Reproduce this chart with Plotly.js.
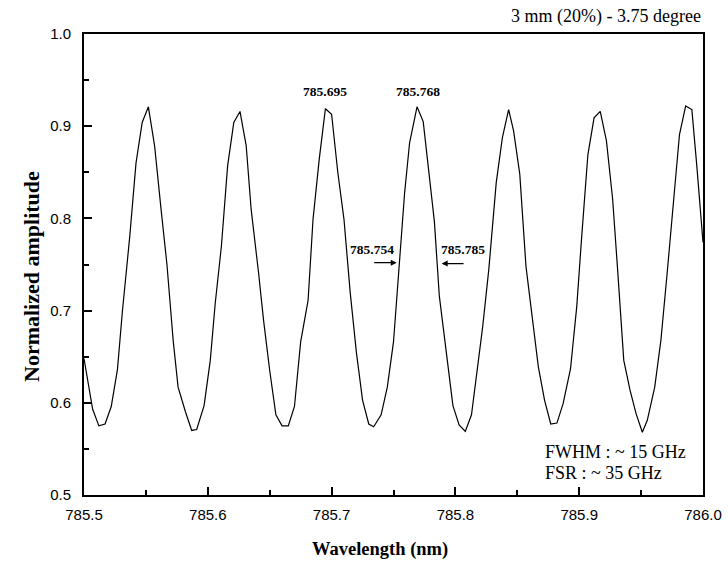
<!DOCTYPE html>
<html>
<head>
<meta charset="utf-8">
<script src="https://cdn.plot.ly/plotly-3.0.1.min.js"></script>
<style>
html,body{margin:0;padding:0;background:#fff;}
#chart{width:728px;height:565px;}
</style>
</head>
<body>
<div id="chart"></div>
<script>
// Wavelength (nm) samples
const wavelength = [
  785.500, 785.507, 785.512, 785.517, 785.522, 785.527, 785.531, 785.537, 785.542, 785.547,
  785.552, 785.557, 785.562, 785.567, 785.572, 785.576, 785.582, 785.587, 785.591, 785.597,
  785.602, 785.606, 785.611, 785.616, 785.621, 785.626, 785.631, 785.635, 785.641, 785.645,
  785.650, 785.655, 785.660, 785.665, 785.670, 785.675, 785.681, 785.685, 785.690, 785.695,
  785.700, 785.705, 785.710, 785.715, 785.720, 785.725, 785.730, 785.734, 785.740, 785.745,
  785.750, 785.755, 785.759, 785.763, 785.769, 785.774, 785.779, 785.783, 785.787, 785.793,
  785.798, 785.803, 785.808, 785.813, 785.817, 785.822, 785.827, 785.833, 785.838, 785.843,
  785.847, 785.852, 785.857, 785.862, 785.867, 785.872, 785.877, 785.882, 785.887, 785.893,
  785.898, 785.902, 785.907, 785.912, 785.917, 785.922, 785.927, 785.931, 785.936, 785.941,
  785.946, 785.951, 785.955, 785.961, 785.966, 785.971, 785.976, 785.981, 785.986, 785.991,
  785.995, 786.000
];
// Normalized amplitude
const amplitude = [
  0.648, 0.593, 0.575, 0.577, 0.596, 0.636, 0.699, 0.781, 0.860, 0.904,
  0.921, 0.879, 0.813, 0.750, 0.668, 0.617, 0.590, 0.570, 0.571, 0.597,
  0.646, 0.708, 0.770, 0.857, 0.904, 0.916, 0.879, 0.810, 0.741, 0.690,
  0.635, 0.587, 0.575, 0.575, 0.596, 0.666, 0.711, 0.799, 0.864, 0.919,
  0.913, 0.850, 0.799, 0.720, 0.655, 0.603, 0.577, 0.574, 0.587, 0.617,
  0.666, 0.759, 0.828, 0.882, 0.921, 0.905, 0.846, 0.797, 0.716, 0.650,
  0.597, 0.576, 0.569, 0.587, 0.628, 0.682, 0.745, 0.839, 0.888, 0.918,
  0.895, 0.848, 0.748, 0.690, 0.639, 0.603, 0.577, 0.578, 0.599, 0.637,
  0.704, 0.780, 0.869, 0.909, 0.916, 0.884, 0.821, 0.745, 0.646, 0.614,
  0.588, 0.568, 0.581, 0.617, 0.668, 0.740, 0.813, 0.891, 0.922, 0.918,
  0.857, 0.774
];
const xTickVals = [785.5, 785.6, 785.7, 785.8, 785.9, 786.0];
const xTickText = ["785.5", "785.6", "785.7", "785.8", "785.9", "786.0"];
const yTickVals = [0.5, 0.6, 0.7, 0.8, 0.9, 1.0];
const yTickText = ["0.5", "0.6", "0.7", "0.8", "0.9", "1.0"];
// Marked wavelengths (label text) and note lines
const peakLabels = ["785.695", "785.768"];
const edgeLabels = ["785.754", "785.785"];
const notes = ["FWHM : ~ 15 GHz", "FSR : ~ 35 GHz"];

const serif = "Liberation Serif, Times New Roman, serif";
const sans = "Liberation Sans, Arial, sans-serif";

const trace = {
  x: wavelength, y: amplitude, type: "scatter", mode: "lines",
  line: {color: "#000", width: 1.2}, hoverinfo: "none"
};

const lblFont = {family: serif, size: 13.5, color: "#000"};
const noteFont = {family: serif, size: 18, color: "#000"};

const layout = {
  width: 728, height: 565,
  margin: {l: 84, r: 25, t: 34, b: 70},
  paper_bgcolor: "#fff", plot_bgcolor: "#fff",
  showlegend: false,
  xaxis: {
    range: [785.5, 786.0], tickvals: xTickVals, ticktext: xTickText,
    ticks: "inside", ticklen: 8, tickwidth: 2, tickcolor: "#000",
    minor: {dtick: 0.05, ticks: "inside", ticklen: 5, tickwidth: 2, tickcolor: "#000"},
    showline: true, linecolor: "#000", linewidth: 2, mirror: true,
    showgrid: false, zeroline: false,
    tickfont: {family: sans, size: 15, color: "#000"},
    ticklabelstandoff: 5
  },
  yaxis: {
    range: [0.5, 1.0], tickvals: yTickVals, ticktext: yTickText,
    ticks: "inside", ticklen: 8, tickwidth: 2, tickcolor: "#000",
    minor: {dtick: 0.05, ticks: "inside", ticklen: 5, tickwidth: 2, tickcolor: "#000"},
    showline: true, linecolor: "#000", linewidth: 2, mirror: true,
    showgrid: false, zeroline: false,
    tickfont: {family: sans, size: 15, color: "#000"},
    ticklabelstandoff: 8
  },
  annotations: [
    {xref: "paper", yref: "paper", x: 1.0, y: 1.0, yshift: 18, xanchor: "right", yanchor: "middle",
     text: "3 mm (20%) - 3.75 degree", showarrow: false, font: {family: serif, size: 18, color: "#000"}},
    // axis titles
    {xref: "paper", yref: "paper", x: 0, y: 0, xshift: -53, yshift: 218, textangle: -90,
     xanchor: "center", yanchor: "middle", text: "<b>Normalized amplitude</b>", showarrow: false,
     font: {family: serif, size: 22, color: "#000"}},
    {xref: "paper", yref: "paper", x: 0, y: 0, xshift: 296, yshift: -54,
     xanchor: "center", yanchor: "middle", text: "<b>Wavelength (nm)</b>", showarrow: false,
     font: {family: serif, size: 18.5, color: "#000"}},
    // peak labels
    {xref: "x", yref: "y", x: 785.6943, y: 0.9378, text: "<b>" + peakLabels[0] + "</b>", showarrow: false, font: lblFont},
    {xref: "x", yref: "y", x: 785.7698, y: 0.9378, text: "<b>" + peakLabels[1] + "</b>", showarrow: false, font: lblFont},
    {xref: "x", yref: "y", x: 785.7330, y: 0.766, text: "<b>" + edgeLabels[0] + "</b>", showarrow: false, font: lblFont},
    {xref: "x", yref: "y", x: 785.8061, y: 0.766, text: "<b>" + edgeLabels[1] + "</b>", showarrow: false, font: lblFont},
    // arrows
    {xref: "x", yref: "y", x: 785.7526, y: 0.752, ax: 785.7332, ay: 0.752, axref: "x", ayref: "y",
     text: "", showarrow: true, arrowhead: 2, arrowsize: 1, arrowwidth: 1.2, arrowcolor: "#000", standoff: 0},
    {xref: "x", yref: "y", x: 785.7889, y: 0.751, ax: 785.8078, ay: 0.751, axref: "x", ayref: "y",
     text: "", showarrow: true, arrowhead: 2, arrowsize: 1, arrowwidth: 1.2, arrowcolor: "#000", standoff: 0},
    // notes
    {xref: "x", yref: "y", x: 785.8708, y: 0.5, yshift: 43, xanchor: "left", yanchor: "middle",
     text: notes[0], showarrow: false, font: noteFont},
    {xref: "x", yref: "y", x: 785.8708, y: 0.5, yshift: 22, xanchor: "left", yanchor: "middle",
     text: notes[1], showarrow: false, font: noteFont}
  ]
};

Plotly.newPlot("chart", [trace], layout, {staticPlot: true, displayModeBar: false});
</script>
</body>
</html>
